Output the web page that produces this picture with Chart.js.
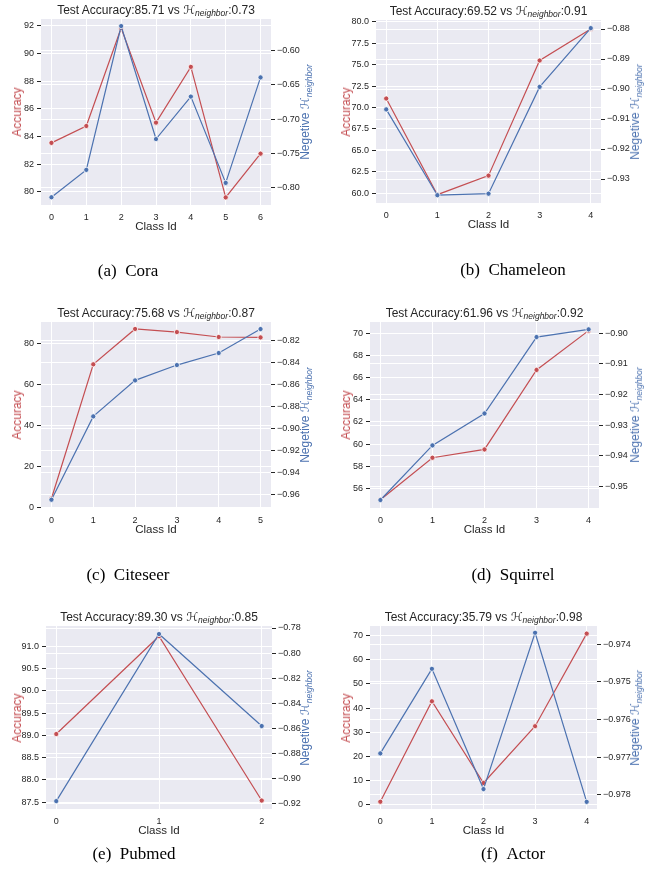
<!DOCTYPE html>
<html><head><meta charset="utf-8">
<script src="https://cdn.jsdelivr.net/npm/chart.js@4.4.1/dist/chart.umd.min.js"></script>
<style>
body{margin:0;background:#fff;width:665px;height:888px;position:relative;overflow:hidden;font-family:"Liberation Sans",Arial,sans-serif;}
canvas{position:absolute;}
.t{position:absolute;white-space:nowrap;transform:translate(-50%,-50%);color:#262626;line-height:1;}
.title{font-size:12px;}
.xl{font-size:11.5px;}
.yl{font-size:12px;transform:translate(-50%,-50%) rotate(-90deg);}
.cal{font-family:"DejaVu Sans",sans-serif;}
.sub{font-style:italic;font-size:8.5px;position:relative;top:0.35em;}
.cap{font-family:"Liberation Serif","Times New Roman",serif;font-size:17px;color:#000;}
</style></head><body>
<script>
// ---------- data ----------
const captionLetters = ['(a)','(b)','(c)','(d)','(e)','(f)'];
const datasetNames = ['Cora','Chameleon','Citeseer','Squirrel','Pubmed','Actor'];
const testAcc = ['85.71','69.52','75.68','61.96','89.30','35.79'];
const hNeighbor = ['0.73','0.91','0.87','0.92','0.85','0.98'];

const classCora = [0,1,2,3,4,5,6];
const accCora = [83.55, 84.77, 91.85, 85.01, 89.04, 79.61, 82.77];
const negHCora = [-0.814, -0.774, -0.564, -0.729, -0.667, -0.793, -0.639];

const classChameleon = [0,1,2,3,4];
const accChameleon = [71.05, 59.84, 62.06, 75.48, 79.15];
const negHChameleon = [-0.9068, -0.9354, -0.9349, -0.8993, -0.8797];

const classCiteseer = [0,1,2,3,4,5];
const accCiteseer = [4.5, 69.8, 87.0, 85.5, 83.1, 82.9];
const negHCiteseer = [-0.9643, -0.8888, -0.8562, -0.8423, -0.8314, -0.8097];

const classSquirrel = [0,1,2,3,4];
const accSquirrel = [54.98, 58.77, 59.52, 66.70, 70.25];
const negHSquirrel = [-0.9544, -0.9366, -0.9262, -0.9013, -0.8988];

const classPubmed = [0,1,2];
const accPubmed = [89.03, 91.22, 87.54];
const negHPubmed = [-0.9179, -0.7848, -0.8581];

const classActor = [0,1,2,3,4];
const accActor = [1.24, 42.8, 9.0, 32.5, 70.8];
const negHActor = [-0.9769, -0.97465, -0.97785, -0.97369, -0.97819];

// tick labels
const leftTicks = [
  [80,82,84,86,88,90,92],
  [60,62.5,65,67.5,70,72.5,75,77.5,80],
  [0,20,40,60,80],
  [56,58,60,62,64,66,68,70],
  [87.5,88,88.5,89,89.5,90,90.5,91],
  [0,10,20,30,40,50,60,70]
];
const leftDec = [0,1,0,0,1,0];
const rightTicks = [
  [-0.80,-0.75,-0.70,-0.65,-0.60],
  [-0.93,-0.92,-0.91,-0.90,-0.89,-0.88],
  [-0.96,-0.94,-0.92,-0.90,-0.88,-0.86,-0.84,-0.82],
  [-0.95,-0.94,-0.93,-0.92,-0.91,-0.90],
  [-0.92,-0.90,-0.88,-0.86,-0.84,-0.82,-0.80,-0.78],
  [-0.978,-0.977,-0.976,-0.975,-0.974]
];
const rightDec = [2,2,2,2,2,3];

const classIds = [classCora,classChameleon,classCiteseer,classSquirrel,classPubmed,classActor];
const accs = [accCora,accChameleon,accCiteseer,accSquirrel,accPubmed,accActor];
const negHs = [negHCora,negHChameleon,negHCiteseer,negHSquirrel,negHPubmed,negHActor];

// ---------- axis limits ----------
const limits = [
  {xMin:-0.3, xMax:6.3,  yMin:79.06, yMax:92.5,  y1Min:-0.8253, y1Max:-0.5537},
  {xMin:-0.2, xMax:4.2,  yMin:58.87, yMax:80.2,  y1Min:-0.938,  y1Max:-0.877},
  {xMin:-0.25,xMax:5.25, yMin:-0.1,  yMax:90.4,  y1Min:-0.9718, y1Max:-0.8033},
  {xMin:-0.2, xMax:4.2,  yMin:54.23, yMax:71.03, y1Min:-0.957,  y1Max:-0.8964},
  {xMin:-0.1, xMax:2.1,  yMin:87.35, yMax:91.45, y1Min:-0.9242, y1Max:-0.7784},
  {xMin:-0.2, xMax:4.2,  yMin:-1.77, yMax:73.96, y1Min:-0.97838,y1Max:-0.97351}
];

// ---------- layout (page pixels) ----------
const boxes = [
  {cx:0,   cy:0,   cw:333, ch:240, L:41,  R:271, T:19,  B:205, accX:16.7,  negX:305, capX:128, capY:270},
  {cx:333, cy:0,   cw:332, ch:240, L:376, R:601, T:20,  B:203, accX:345.7, negX:635, capX:513, capY:269},
  {cx:0,   cy:290, cw:333, ch:250, L:41,  R:271, T:322, B:508, accX:16.7,  negX:305, capX:128, capY:574},
  {cx:333, cy:290, cw:332, ch:250, L:370, R:599, T:322, B:508, accX:345.7, negX:635, capX:513, capY:574},
  {cx:0,   cy:580, cw:333, ch:260, L:46,  R:272, T:626, B:809, accX:16.7,  negX:305, capX:134, capY:853},
  {cx:333, cy:580, cw:332, ch:260, L:370, R:597, T:626, B:809, accX:345.7, negX:635, capX:513, capY:853}
];

const RED = '#C44E52', BLUE = '#4C72B0', TXT = '#262626';
const FF = '"Liberation Sans", Arial, sans-serif';

const bgPlugin = {
  id:'bg',
  beforeDraw(chart){
    const a = chart.chartArea, ctx = chart.ctx;
    ctx.save(); ctx.fillStyle = '#EAEAF2';
    ctx.fillRect(a.left, a.top, a.right - a.left, a.bottom - a.top);
    ctx.restore();
  }
};

function addText(cls, html, x, y, color){
  const d = document.createElement('div');
  d.className = 't ' + cls;
  d.innerHTML = html;
  d.style.left = x + 'px'; d.style.top = y + 'px';
  if (color) d.style.color = color;
  document.body.appendChild(d);
}

function makePanel(i){
  const p = boxes[i], lim = limits[i], xs = classIds[i];
  const c = document.createElement('canvas');
  c.width = p.cw; c.height = p.ch;
  c.style.left = p.cx + 'px'; c.style.top = p.cy + 'px';
  c.style.width = p.cw + 'px'; c.style.height = p.ch + 'px';
  document.body.appendChild(c);
  const tickFont = {size:9, family:FF};
  new Chart(c, {
    type:'line',
    data:{datasets:[
      {label:'Accuracy', data: xs.map((x,k)=>({x:x, y:accs[i][k]})), yAxisID:'y',
       borderColor:RED, backgroundColor:RED, pointBackgroundColor:RED, pointBorderColor:'#fff',
       pointBorderWidth:0.8, pointRadius:2.6, borderWidth:1.2, tension:0, order:1},
      {label:'Negetive H', data: xs.map((x,k)=>({x:x, y:negHs[i][k]})), yAxisID:'y1',
       borderColor:BLUE, backgroundColor:BLUE, pointBackgroundColor:BLUE, pointBorderColor:'#fff',
       pointBorderWidth:0.8, pointRadius:2.6, borderWidth:1.2, tension:0, order:0}
    ]},
    options:{
      responsive:false, animation:false, devicePixelRatio:1,
      layout:{padding:{top:p.T - p.cy, left:0, right:0, bottom:0}},
      plugins:{legend:{display:false}, tooltip:{enabled:false}},
      scales:{
        x:{type:'linear', min:lim.xMin, max:lim.xMax,
           afterBuildTicks:a=>{a.ticks = xs.map(v=>({value:v}));},
           afterFit:a=>{a.height = p.cy + p.ch - p.B;},
           grid:{color:'#fff', lineWidth:1, drawTicks:false},
           border:{display:false},
           ticks:{padding:7, color:TXT, font:tickFont, autoSkip:false, maxRotation:0, callback:v=>String(v)}},
        y:{type:'linear', position:'left', min:lim.yMin, max:lim.yMax,
           afterBuildTicks:a=>{a.ticks = leftTicks[i].map(v=>({value:v}));},
           afterFit:a=>{a.width = p.L - p.cx;},
           grid:{color:'#fff', lineWidth:1, tickLength:4, tickColor:TXT},
           border:{display:false},
           ticks:{padding:3, color:TXT, font:tickFont, autoSkip:false, callback:v=>v.toFixed(leftDec[i])}},
        y1:{type:'linear', position:'right', min:lim.y1Min, max:lim.y1Max,
           afterBuildTicks:a=>{a.ticks = rightTicks[i].map(v=>({value:v}));},
           afterFit:a=>{a.width = p.cx + p.cw - p.R;},
           grid:{color:'#fff', lineWidth:1, tickLength:4, tickColor:TXT, drawOnChartArea:true},
           border:{display:false},
           ticks:{padding:2, color:TXT, font:tickFont, autoSkip:false,
                  callback:v=>(v<0?'\u2212':'') + Math.abs(v).toFixed(rightDec[i])}}
      }
    },
    plugins:[bgPlugin]
  });
  const midX = (p.L + p.R)/2, midY = (p.T + p.B)/2;
  const H = '<span class="cal">\u210B</span><span class="sub">neighbor</span>';
  addText('title', 'Test Accuracy:' + testAcc[i] + ' vs ' + H + ':' + hNeighbor[i], midX, p.T - 9.5);
  addText('xl', 'Class Id', midX, p.B + 21.5);
  addText('yl', 'Accuracy', p.accX, midY, RED);
  addText('yl', 'Negetive ' + H, p.negX, midY, BLUE);
  addText('cap', captionLetters[i] + '&nbsp;&nbsp;' + datasetNames[i], p.capX, p.capY);
}

for (let i = 0; i < 6; i++) makePanel(i);
</script>
</body></html>
